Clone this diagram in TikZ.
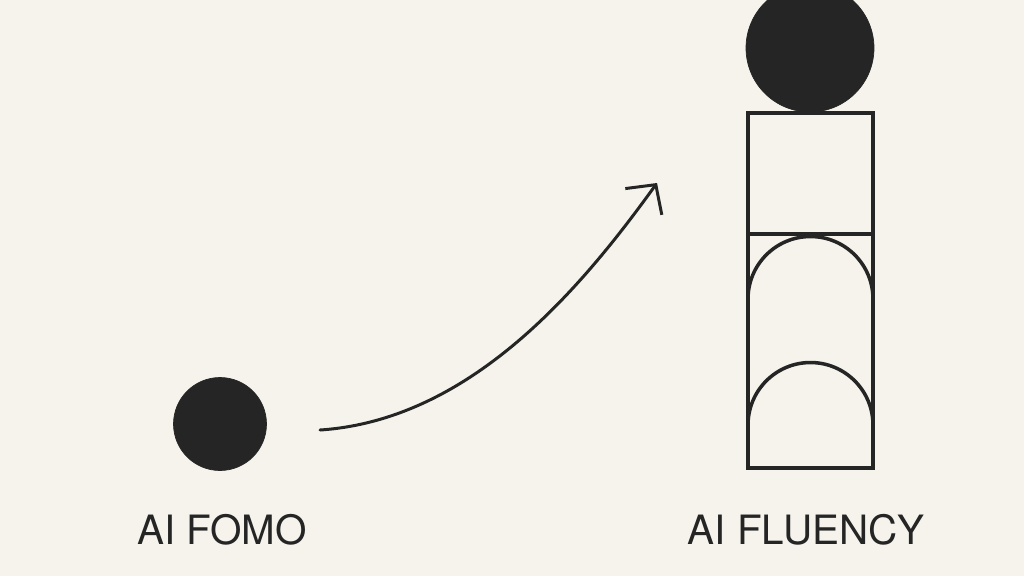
\documentclass[tikz,border=0pt]{standalone}
\usepackage{fontspec}
\setmainfont{TeX Gyre Heros}
\usetikzlibrary{arrows.meta}

\begin{document}
\begin{tikzpicture}[x=0.02cm, y=-0.02cm]

% Define colors
\definecolor{paper}{HTML}{F6F3EC}
\definecolor{ink}{HTML}{252525}

\tikzset{
  dot/.style={circle, fill=ink, draw=ink, inner sep=0pt},
  outline/.style={draw=ink, line width=2pt, line join=miter},
  caption/.style={anchor=base, text=ink, font=\fontsize{23}{27}\selectfont},
}

% Draw the background
\fill[paper] (0,0) rectangle (1024,576);
\clip (0,0) rectangle (1024,576);

% Draw the dots
\node[dot, minimum size=1.86cm] (fomo) at (220,424) {};
\node[dot, minimum size=2.56cm] (head) at (810,48) {};

% Draw the tower
\draw[outline] (748,113) rectangle (873,234);
\draw[outline] (748,234) rectangle (873,468);
\draw[outline] (748,299) arc[start angle=180, end angle=0, radius=1.25cm];
\draw[outline] (748,425) arc[start angle=180, end angle=0, radius=1.25cm];

% Draw the arrow
\coordinate (start) at (320,430);
\coordinate (tip) at (657,183);
\draw[ink, line width=1.7pt, line cap=round,
  -{Straight Barb[length=4.2mm, width=9mm, line width=1.7pt]}]
  (start) .. controls (470,420) and (580,290) .. (tip);

% Draw the labels
\node[caption] (fomolabel) at (222,544) {AI FOMO};
\node[caption] (fluencylabel) at (806,544) {AI FLUENCY};

\end{tikzpicture}
\end{document}
